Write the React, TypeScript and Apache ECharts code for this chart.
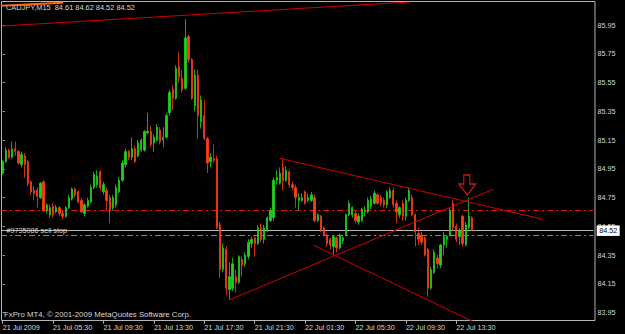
import React, { useEffect, useRef } from 'react';
import * as echarts from 'echarts';

// CADJPY M15 bars, 21 Jul 2009 01:30 onwards
const opens = [
  84.92, 85.00, 85.08, 85.03, 85.09, 85.07, 84.98, 85.04, 85.00, 84.86,
  84.80, 84.80, 84.75, 84.86, 84.66, 84.63, 84.69, 84.65, 84.68, 84.64,
  84.62, 84.68, 84.74, 84.81, 84.79, 84.73, 84.64, 84.69, 84.72, 84.82,
  84.84, 84.93, 84.79, 84.80, 84.75, 84.68, 84.70, 84.79, 84.87, 84.98,
  85.07, 85.03, 85.09, 85.04, 85.08, 85.08, 85.20, 85.21, 85.13, 85.15,
  85.22, 85.15, 85.17, 85.34, 85.50, 85.44, 85.66, 85.58, 85.51, 85.87,
  85.71, 85.39, 85.60, 85.28, 85.32, 85.16, 85.00, 85.02, 85.02, 84.56,
  84.25, 84.39, 84.11, 84.12, 84.20, 84.16, 84.32, 84.29, 84.34, 84.43,
  84.47, 84.43, 84.54, 84.46, 84.52, 84.59, 84.61, 84.87, 84.85, 84.96,
  84.87, 84.93, 84.84, 84.82, 84.73, 84.73, 84.79, 84.73, 84.73, 84.75,
  84.59, 84.62, 84.54, 84.49, 84.46, 84.41, 84.47, 84.40, 84.45, 84.49,
  84.63, 84.63, 84.64, 84.58, 84.59, 84.65, 84.65, 84.69, 84.71, 84.77,
  84.75, 84.73, 84.70, 84.75, 84.80, 84.71, 84.63, 84.71, 84.62, 84.73,
  84.75, 84.63, 84.50, 84.49, 84.47, 84.39, 84.12, 84.23, 84.33, 84.28,
  84.42, 84.46, 84.49, 84.71, 84.55, 84.48, 84.62, 84.42, 84.54, 84.61,
];
const closes = [
  85.00, 85.08, 85.03, 85.09, 85.07, 84.99, 85.05, 84.98, 84.85, 84.79,
  84.78, 84.76, 84.85, 84.66, 84.70, 84.68, 84.63, 84.68, 84.64, 84.62,
  84.68, 84.75, 84.81, 84.77, 84.72, 84.65, 84.70, 84.73, 84.82, 84.91,
  84.90, 84.82, 84.84, 84.73, 84.66, 84.75, 84.82, 84.87, 84.99, 85.07,
  85.03, 85.09, 85.00, 85.13, 85.15, 85.21, 85.21, 85.12, 85.17, 85.24,
  85.14, 85.17, 85.32, 85.48, 85.44, 85.65, 85.59, 85.50, 85.86, 85.71,
  85.44, 85.60, 85.32, 85.43, 85.16, 84.99, 85.03, 85.01, 84.54, 84.25,
  84.40, 84.12, 84.20, 84.29, 84.16, 84.34, 84.28, 84.35, 84.44, 84.46,
  84.43, 84.54, 84.46, 84.54, 84.61, 84.66, 84.87, 84.89, 84.92, 84.87,
  84.94, 84.84, 84.82, 84.75, 84.75, 84.75, 84.71, 84.75, 84.77, 84.59,
  84.63, 84.52, 84.49, 84.43, 84.42, 84.48, 84.40, 84.49, 84.47, 84.63,
  84.71, 84.68, 84.59, 84.62, 84.67, 84.66, 84.73, 84.74, 84.78, 84.71,
  84.71, 84.70, 84.79, 84.80, 84.70, 84.65, 84.68, 84.62, 84.73, 84.80,
  84.63, 84.51, 84.46, 84.44, 84.35, 84.12, 84.25, 84.37, 84.29, 84.42,
  84.48, 84.48, 84.66, 84.54, 84.46, 84.52, 84.43, 84.56, 84.62, 84.52,
];
const lows = [
  84.91, 84.99, 85.02, 85.02, 85.04, 84.98, 84.96, 84.89, 84.83, 84.77,
  84.73, 84.68, 84.74, 84.65, 84.64, 84.61, 84.61, 84.64, 84.62, 84.60,
  84.61, 84.67, 84.73, 84.75, 84.71, 84.64, 84.62, 84.68, 84.71, 84.81,
  84.82, 84.80, 84.77, 84.66, 84.57, 84.66, 84.68, 84.78, 84.86, 84.96,
  85.01, 85.01, 84.99, 85.03, 85.07, 85.07, 85.19, 85.10, 85.07, 85.14,
  85.12, 85.10, 85.16, 85.32, 85.36, 85.43, 85.55, 85.48, 85.50, 85.69,
  85.43, 85.35, 85.16, 85.23, 85.15, 84.92, 84.96, 84.99, 84.53, 84.19,
  84.23, 84.07, 84.04, 84.10, 84.09, 84.15, 84.20, 84.27, 84.32, 84.40,
  84.34, 84.42, 84.44, 84.43, 84.51, 84.58, 84.59, 84.84, 84.84, 84.80,
  84.86, 84.82, 84.80, 84.68, 84.66, 84.72, 84.70, 84.72, 84.72, 84.58,
  84.58, 84.51, 84.48, 84.41, 84.39, 84.35, 84.37, 84.39, 84.43, 84.48,
  84.62, 84.61, 84.57, 84.56, 84.58, 84.62, 84.64, 84.67, 84.70, 84.70,
  84.69, 84.68, 84.68, 84.74, 84.68, 84.57, 84.61, 84.59, 84.59, 84.72,
  84.62, 84.41, 84.42, 84.42, 84.34, 84.06, 84.11, 84.22, 84.26, 84.26,
  84.35, 84.40, 84.48, 84.52, 84.44, 84.42, 84.41, 84.41, 84.53, 84.52,
];
const highs = [
  85.01, 85.10, 85.09, 85.14, 85.14, 85.08, 85.07, 85.06, 85.01, 84.87,
  84.83, 84.82, 84.86, 84.87, 84.71, 84.70, 84.71, 84.70, 84.69, 84.66,
  84.69, 84.77, 84.82, 84.82, 84.80, 84.75, 84.71, 84.75, 84.84, 84.93,
  84.94, 84.94, 84.86, 84.82, 84.77, 84.77, 84.84, 84.89, 85.01, 85.09,
  85.08, 85.17, 85.11, 85.15, 85.16, 85.22, 85.34, 85.25, 85.19, 85.26,
  85.24, 85.24, 85.34, 85.50, 85.53, 85.67, 85.76, 85.64, 85.99, 85.88,
  85.72, 85.64, 85.64, 85.46, 85.43, 85.17, 85.06, 85.12, 85.04, 84.58,
  84.43, 84.41, 84.30, 84.33, 84.25, 84.35, 84.34, 84.37, 84.46, 84.48,
  84.48, 84.56, 84.57, 84.56, 84.62, 84.68, 84.89, 84.94, 84.96, 85.02,
  84.97, 84.94, 84.86, 84.84, 84.78, 84.78, 84.80, 84.78, 84.79, 84.77,
  84.64, 84.63, 84.55, 84.50, 84.47, 84.49, 84.48, 84.50, 84.48, 84.64,
  84.73, 84.69, 84.66, 84.64, 84.68, 84.69, 84.75, 84.76, 84.80, 84.78,
  84.77, 84.75, 84.80, 84.82, 84.82, 84.73, 84.69, 84.73, 84.75, 84.82,
  84.77, 84.64, 84.54, 84.51, 84.48, 84.40, 84.27, 84.39, 84.35, 84.43,
  84.51, 84.49, 84.68, 84.73, 84.57, 84.54, 84.63, 84.58, 84.75, 84.62,
];

const xTickLabels = [
  '21 Jul 2009', '21 Jul 05:30', '21 Jul 09:30', '21 Jul 13:30', '21 Jul 17:30',
  '21 Jul 21:30', '22 Jul 01:30', '22 Jul 05:30', '22 Jul 09:30', '22 Jul 13:30',
];
const barsPerTick = 16;
const totalSlots = 188; // bars + empty chart shift on the right
const yTicks = [83.95, 84.15, 84.35, 84.55, 84.75, 84.95, 85.15, 85.35, 85.55, 85.75, 85.95];
const yMin = 83.894;
const yMax = 86.11;

// horizontal levels
const redLevel = 84.66;
const orderLevel = 84.49;
const bidLevel = 84.52;

// trend lines in (bar index, price)
const trendTop = [[-0.22, 85.943], [129.3, 86.11]];
const trendOrange = [[-0.5, 86.084], [19.1, 86.105]];
const channelUpper = [[88.0, 85.023], [171.6, 84.599]];
const channelLower = [[98.6, 84.42], [149.5, 83.886]];
const risingLine = [[71.9, 84.038], [155.7, 84.808]];
const arrowPoint = [[147.5, 84.768]];

const FONT = '"Liberation Sans", Arial, sans-serif';
const TEXT = '#d8d8d8';
const BULL = '#1ed21e';
const BEAR = '#ff3d12';
const TREND = '#d40000';

export default function App() {
  const ref = useRef<HTMLDivElement>(null);
  useEffect(() => {
    const el = ref.current;
    if (!el) return;
    const chart = echarts.init(el, undefined, { renderer: 'svg', width: 625, height: 334 });
    const categories = Array.from({ length: totalSlots }, (_, i) => String(i));
    const candles = opens.map((o, i) => [o, closes[i], lows[i], highs[i]]);
    const showTick = (i: number) => i % barsPerTick === 0 && i / barsPerTick < xTickLabels.length;
    const lineSeries = (data: number[][], color: string, width = 1) => ({
      type: 'line',
      xAxisIndex: 1,
      yAxisIndex: 0,
      data,
      symbol: 'none',
      silent: true,
      clip: true,
      z: 3,
      lineStyle: { color, width },
    });
    const option: any = {
      animation: false,
      backgroundColor: '#000000',
      grid: { left: 1.1, top: 2, width: 592.2, height: 318.7, outerBoundsMode: 'none', containLabel: false },
      xAxis: [
        {
          type: 'category',
          data: categories,
          boundaryGap: true,
          axisLine: { show: false },
          axisTick: {
            show: true,
            alignWithLabel: true,
            interval: (i: number) => showTick(i),
            length: 3,
            lineStyle: { color: '#b4b4b4', width: 1 },
          },
          axisLabel: {
            interval: (i: number) => showTick(i),
            formatter: (_v: string, i: number) => xTickLabels[i / barsPerTick] ?? '',
            align: 'left',
            color: TEXT,
            fontSize: 7.2,
            fontFamily: FONT,
            margin: 3.5,
          },
          splitLine: { show: false },
        },
        { type: 'value', min: -0.5, max: totalSlots - 0.5, show: false },
      ],
      yAxis: {
        type: 'value',
        position: 'right',
        min: yMin,
        max: yMax,
        offset: 1.7,
        axisLine: { show: false },
        axisTick: { show: true, length: 2, customValues: yTicks, lineStyle: { color: '#b4b4b4' } },
        axisLabel: {
          customValues: yTicks,
          formatter: (v: number) => v.toFixed(2),
          color: TEXT,
          fontSize: 7.2,
          fontFamily: FONT,
          margin: 2.5,
        },
        splitLine: { show: false },
      },
      graphic: [
        {
          type: 'rect',
          shape: { x: 1.5, y: 1.5, width: 593.5, height: 319 },
          style: { fill: 'none', stroke: '#b4b4b4', lineWidth: 1 },
          silent: true,
          z: 0,
        },
        {
          type: 'text',
          x: 6,
          y: 7.5,
          style: {
            text: 'CADJPY,M15  84.61 84.62 84.52 84.52',
            fill: TEXT,
            fontSize: 7.4,
            fontFamily: FONT,
            verticalAlign: 'middle',
            align: 'left',
          },
          z: 0,
        },
        {
          type: 'text',
          x: 4,
          y: 314.3,
          style: {
            text: 'FxPro MT4, © 2001-2009 MetaQuotes Software Corp.',
            fill: TEXT,
            fontSize: 7.8,
            fontFamily: FONT,
            verticalAlign: 'middle',
            align: 'left',
          },
          z: 0,
        },
      ],
      series: [
        {
          type: 'candlestick',
          xAxisIndex: 0,
          yAxisIndex: 0,
          data: candles,
          barWidth: 1.8,
          z: 2,
          itemStyle: {
            color: BULL,
            color0: BEAR,
            borderColor: BULL,
            borderColor0: BEAR,
            borderWidth: 0.8,
          },
          markLine: {
            silent: true,
            symbol: ['none', 'none'],
            animation: false,
            z: 1,
            data: [
              {
                yAxis: redLevel,
                lineStyle: { color: '#e01010', type: [6, 3, 2, 3], width: 1 },
                label: { show: false },
              },
              {
                yAxis: bidLevel,
                lineStyle: { color: '#b8b8b8', type: 'solid', width: 1 },
                label: {
                  show: true,
                  position: 'end',
                  formatter: bidLevel.toFixed(2),
                  backgroundColor: '#ffffff',
                  color: '#000000',
                  fontSize: 7.2,
                  fontFamily: FONT,
                  padding: [2, 2.5, 1.5, 2.5],
                  distance: 3.4,
                },
              },
              {
                yAxis: orderLevel,
                lineStyle: { color: '#1ec81e', type: [6, 3, 2, 3], width: 1 },
                label: {
                  show: true,
                  position: 'insideStartTop',
                  formatter: '#9735086 sell stop',
                  color: TEXT,
                  fontSize: 7.2,
                  fontFamily: FONT,
                  distance: [5.5, 1],
                },
              },
            ],
          },
        },
        lineSeries(trendTop, TREND),
        lineSeries(trendOrange, '#ff6a10', 2),
        lineSeries(channelUpper, TREND),
        lineSeries(channelLower, TREND),
        lineSeries(risingLine, TREND),
        {
          type: 'scatter',
          xAxisIndex: 1,
          yAxisIndex: 0,
          data: arrowPoint,
          symbol: 'path://M5,0 L11,0 L11,9 L17,9 L8.5,20 L0,9 L5,9 Z',
          symbolSize: [17, 20],
          symbolOffset: [0, '-50%'],
          silent: true,
          z: 4,
          itemStyle: { color: '#000000', borderColor: '#ff1e1e', borderWidth: 1.2 },
        },
      ],
    };
    chart.setOption(option);
    return () => chart.dispose();
  }, []);
  return (
    <div
      ref={ref}
      style={{ position: 'fixed', left: 0, top: 0, width: 625, height: 334, background: '#000' }}
    />
  );
}
